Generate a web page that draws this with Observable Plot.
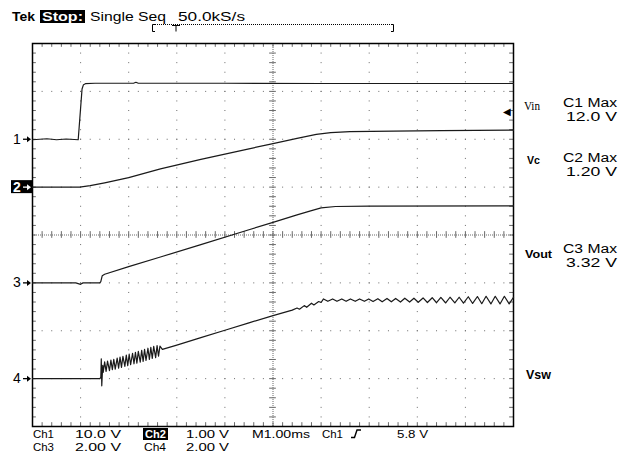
<!DOCTYPE html>
<html><head><meta charset="utf-8">
<script src="https://cdn.jsdelivr.net/npm/d3@7"></script>
<script src="https://cdn.jsdelivr.net/npm/@observablehq/plot@0.6"></script>
<style>body{margin:0;background:#fff}#chart{width:620px;height:458px}</style>
</head><body><div id="chart"></div>
<script>
// Scope settings
const channelNames = ["Vin", "Vc", "Vout", "Vsw"];
const voltsPerDiv = [10, 1, 2, 2];
const groundDiv = [2, 1, -1, -3];
const triggerLevel = 5.8; // V on Ch1

// Ch1 (Vin) time (ms from left edge) and volts
const ch1Time = [0, 0.3, 0.5, 0.7, 0.95, 0.97, 1.0, 1.03, 1.06, 1.1, 1.3, 2.1, 2.15, 2.2, 4, 6, 8, 10];
const ch1Volts = [-0.1, 0.1, -0.1, 0.05, -0.1, 2.5, 6.5, 10.5, 11.4, 11.6, 11.7, 11.7, 11.9, 11.7, 11.7, 11.65, 11.65, 11.65];

// Ch2 (Vc)
const ch2Time = [0, 0.98, 1.2, 1.5, 2.0, 2.66, 3.5, 4.5, 5.0, 5.5, 5.9, 6.2, 6.6, 7.5, 8.5, 10];
const ch2Volts = [0, 0, 0.03, 0.09, 0.2, 0.38, 0.58, 0.8, 0.91, 1.02, 1.1, 1.14, 1.16, 1.17, 1.18, 1.19];

// Ch3 (Vout)
const ch3Time = [0, 0.9, 1.0, 1.05, 1.40, 1.42, 1.45, 1.5, 2.0, 2.66, 3.5, 4.5, 5.0, 5.5, 5.8, 6.0, 6.3, 7, 10];
const ch3Volts = [0, 0, -0.06, 0, 0, 0.05, 0.3, 0.36, 0.68, 1.08, 1.6, 2.22, 2.53, 2.84, 3.02, 3.13, 3.19, 3.21, 3.22];

// Ch4 (Vsw)
const ch4Time = [0, 1.40, 1.42, 1.43, 1.44, 1.46,
  1.47, 1.50, 1.53, 1.56, 1.60, 1.63, 1.66, 1.69, 1.72, 1.76, 1.79, 1.82, 1.85, 1.88, 1.92, 1.95, 1.98,
  2.01, 2.04, 2.08, 2.11, 2.14, 2.17, 2.20, 2.24, 2.27, 2.30, 2.33, 2.36, 2.40, 2.43, 2.46, 2.49, 2.52,
  2.56, 2.59, 2.62, 2.65, 2.70,
  3.0, 3.5, 4.0, 4.5, 5.0, 5.4, 5.5, 5.55, 5.65, 5.7, 5.8, 5.85, 5.95, 6.0,
  6.05, 6.14, 6.24, 6.33, 6.43, 6.52, 6.61, 6.71, 6.80, 6.90, 6.99, 7.08, 7.18, 7.27, 7.37, 7.46, 7.55,
  7.65, 7.74, 7.84, 7.93, 8.02, 8.12, 8.21, 8.31, 8.40, 8.49, 8.59, 8.68, 8.78, 8.87, 8.96, 9.06, 9.15,
  9.25, 9.34, 9.43, 9.53, 9.62, 9.72, 9.81, 9.91, 10.0];
const ch4Volts = [0, 0, 0.05, 0.83, -0.3, 0.55,
  0.26, 0.70, 0.30, 0.73, 0.33, 0.77, 0.37, 0.81, 0.40, 0.86, 0.44, 0.90, 0.47, 0.93, 0.51, 0.98, 0.54,
  1.02, 0.58, 1.06, 0.62, 1.10, 0.65, 1.14, 0.69, 1.18, 0.72, 1.22, 0.76, 1.27, 0.80, 1.31, 0.84, 1.35,
  0.88, 1.38, 0.94, 1.36, 1.22,
  1.40, 1.71, 2.02, 2.33, 2.63, 2.86, 2.95, 2.90, 3.05, 2.98, 3.15, 3.08, 3.22, 3.18,
  3.33, 3.23, 3.33, 3.23, 3.33, 3.23, 3.33, 3.23, 3.33, 3.23, 3.33, 3.22, 3.34, 3.21, 3.35, 3.21, 3.35,
  3.20, 3.36, 3.20, 3.36, 3.19, 3.37, 3.18, 3.38, 3.17, 3.39, 3.16, 3.40, 3.16, 3.40, 3.15, 3.42, 3.14,
  3.43, 3.13, 3.44, 3.12, 3.44, 3.12, 3.44, 3.12, 3.40];

const channelTimes = [ch1Time, ch2Time, ch3Time, ch4Time];
const channelVolts = [ch1Volts, ch2Volts, ch3Volts, ch4Volts];

const rows = [];
channelNames.forEach((name, i) => {
  channelTimes[i].forEach((t, j) => {
    rows.push({ch: name, t, v: channelVolts[i][j], div: groundDiv[i] + channelVolts[i][j] / voltsPerDiv[i]});
  });
});

// graticule helpers
const minorX = d3.range(0, 51).map(i => i / 5);
const minorY = d3.range(0, 41).map(i => -4 + i / 5);
const majorX = [1, 2, 3, 4, 6, 7, 8, 9];
const majorY = [-3, -2, -1, 1, 2, 3];
const grat = "#6a6a6a";

const plot = Plot.plot({
  width: 620, height: 458,
  marginTop: 43, marginBottom: 32, marginLeft: 32, marginRight: 107,
  x: {domain: [0, 10], axis: null},
  y: {domain: [-4, 4], axis: null},
  style: {background: "#fff", fontFamily: "Liberation Sans, sans-serif"},
  marks: [
    Plot.ruleX(majorX, {stroke: grat, strokeWidth: 1, strokeDasharray: "1,8.575"}),
    Plot.ruleY(majorY, {stroke: grat, strokeWidth: 1, strokeDasharray: "1,8.62"}),
    Plot.ruleX([5], {stroke: grat, strokeWidth: 1, strokeDasharray: "1,1"}),
    Plot.ruleY([0], {stroke: grat, strokeWidth: 1, strokeDasharray: "1,1"}),
    Plot.ruleX(minorX, {x: d => d, y1: -0.07, y2: 0.07, stroke: grat}),
    Plot.ruleY(minorY, {y: d => d, x1: 4.93, x2: 5.07, stroke: grat}),
    Plot.ruleX(minorX, {x: d => d, y1: 4, y2: 3.92, stroke: grat}),
    Plot.ruleX(minorX, {x: d => d, y1: -4, y2: -3.92, stroke: grat}),
    Plot.ruleY(minorY, {y: d => d, x1: 0, x2: 0.08, stroke: grat}),
    Plot.ruleY(minorY, {y: d => d, x1: 10, x2: 9.92, stroke: grat}),
    Plot.frame({stroke: "#000", strokeWidth: 1.5}),
    Plot.line(rows, {x: "t", y: "div", z: "ch", stroke: "#1a1a1a", strokeWidth: 1.2}),
    Plot.text([triggerLevel], {x: 10, y: d => groundDiv[0] + d / voltsPerDiv[0], text: () => "◀", textAnchor: "end", dx: -3, fontSize: 10, fill: "#000"})
  ]
});
document.getElementById("chart").appendChild(plot);

const svg = d3.select(plot);
const ys = plot.scale("y");
const g = svg.append("g").attr("font-family", "Liberation Sans, sans-serif").attr("fill", "#000").attr("text-anchor", "start");
function txt(x, y, s, o = {}) {
  const t = g.append("text").attr("x", x).attr("y", y).text(s)
    .attr("font-size", o.size || 12).attr("font-weight", o.bold ? "bold" : "normal")
    .attr("fill", o.fill || "#000").attr("text-anchor", o.anchor || "start");
  if (o.w) t.attr("textLength", o.w).attr("lengthAdjust", "spacingAndGlyphs");
  if (o.family) t.attr("font-family", o.family);
  return t;
}
// header
txt(12, 21, "Tek", {bold: true, size: 13, w: 23});
g.append("rect").attr("x", 40).attr("y", 10).attr("width", 45).attr("height", 13).attr("fill", "#000");
txt(42, 21, "Stop:", {bold: true, size: 13, w: 41, fill: "#fff"});
txt(90, 21, "Single Seq", {size: 13, w: 76});
txt(178, 21, "50.0kS/s", {size: 13, w: 67});
// record bar
g.append("path").attr("d", "M155,24.5H152.5V31.5H155M391,24.5H393.5V31.5H391M172,25.5H180M176,25.5V31.5")
  .attr("fill", "none").attr("stroke", "#000");
g.append("path").attr("d", "M153,24.5H393").attr("stroke", "#000").attr("stroke-dasharray", "1,1").attr("fill", "none");

// channel markers
const markers = ["1", "2", "3", "4"];
markers.forEach((m, i) => {
  const y = ys.apply(groundDiv[i]);
  const col = i === 1 ? "#fff" : "#000";
  if (i === 1) {
    g.append("rect").attr("x", 11).attr("y", y - 6.5).attr("width", 21).attr("height", 13).attr("fill", "#000");
  }
  txt(13, y + 5, m, {size: 14, fill: col, bold: i === 1});
  g.append("path").attr("d", `M23,${y + 0.5}H28`).attr("stroke", col).attr("stroke-width", 1.3);
  g.append("path").attr("d", `M27,${y - 2.5}L31,${y + 0.5}L27,${y + 3.5}Z`).attr("fill", col);
});

// right labels
txt(524, 110, "Vin", {size: 13, family: "Liberation Serif, serif", w: 16});
txt(563, 107, "C1 Max", {size: 12, w: 54});
txt(566, 121, "12.0 V", {size: 12, w: 51});
txt(527, 164, "Vc", {size: 11, bold: true, w: 13});
txt(563, 162, "C2 Max", {size: 12, w: 54});
txt(566, 176, "1.20 V", {size: 12, w: 51});
txt(525, 258, "Vout", {size: 11, bold: true, w: 27});
txt(563, 253, "C3 Max", {size: 12, w: 54});
txt(566, 267, "3.32 V", {size: 12, w: 51});
txt(526, 379, "Vsw", {size: 13, bold: true, w: 25});

// footer
const fs = 11.5;
txt(33, 437.5, "Ch1", {size: fs, w: 21});
txt(75, 437.5, "10.0 V", {size: fs, w: 46});
g.append("rect").attr("x", 143).attr("y", 428).attr("width", 25).attr("height", 12).attr("fill", "#000");
txt(145, 437.5, "Ch2", {size: fs, w: 21, fill: "#fff", bold: true});
txt(186, 437.5, "1.00 V", {size: fs, w: 43});
txt(252, 437.5, "M1.00ms", {size: fs, w: 58});
txt(322, 437.5, "Ch1", {size: fs, w: 21});
g.append("path").attr("d", "M351,437.5H354.5L357,430H361").attr("fill", "none").attr("stroke", "#000").attr("stroke-width", 1.4);
txt(397, 437.5, "5.8 V", {size: fs, w: 31});
txt(33, 451, "Ch3", {size: fs, w: 21});
txt(75, 451, "2.00 V", {size: fs, w: 46});
txt(144, 451, "Ch4", {size: fs, w: 22});
txt(186, 451, "2.00 V", {size: fs, w: 43});
</script>
</body></html>
